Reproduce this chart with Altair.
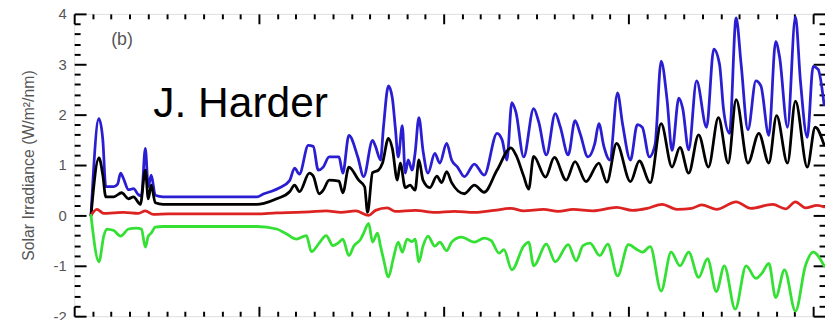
import altair as alt
import pandas as pd

# ---- data (x: arbitrary day units, y: W/m^2/nm) ----
blue_x = [9.1, 13.4, 15.5, 17.1, 21.4, 23.5, 25.1, 26.7, 29.4, 32.1, 34.8, 36.4, 38.5, 40.1, 41.7, 43.9, 48.1,
          69.5, 98.9, 102.7, 106.9, 111.2, 116.6, 119.3, 121.9, 126.7, 129.4, 132.1, 134.8, 138.0, 143.3, 145.4,
          148.7, 153.5, 156.7, 161.5, 163.1, 165.8, 167.4, 170.1, 172.2, 173.8, 175.4, 177.6, 179.2, 180.8, 182.9,
          184.5, 186.6, 188.8, 191.5, 195.2, 197.9, 201.6, 204.3, 207.5, 211.2, 216.6, 221.9, 228.9, 231.6, 234.2,
          236.9, 239.1, 243.3, 248.7, 251.4, 255.6, 260.4, 263.1, 267.4, 271.1, 273.8, 278.1, 281.8, 284.0, 286.7,
          289.9, 294.1, 296.8, 301.1, 304.8, 307.5, 311.3, 314.4, 317.7, 320.9, 323.6, 327.3, 329.4, 332.6, 336.9,
          342.3, 346.2, 349.3, 351.5, 354.7, 358.3, 361.0, 364.7, 369.0, 371.7, 376.0, 379.7, 381.8, 386.1, 390.4,
          393.1, 396.8, 400.0, 402.7, 405.9]
blue_y = [0.0, 1.92, 1.5, 0.57, 0.57, 0.62, 0.84, 0.73, 0.51, 0.53, 0.41, 0.39, 1.33, 0.57, 0.8, 0.4, 0.37,
          0.37, 0.37, 0.43, 0.48, 0.55, 0.69, 0.94, 0.82, 1.39, 1.37, 0.9, 0.96, 1.16, 1.16, 0.84,
          1.59, 1.16, 0.77, 1.49, 1.37, 1.1, 1.75, 2.57, 2.33, 1.75, 1.16, 1.78, 0.84, 1.1, 0.9,
          1.23, 1.94, 1.29, 0.84, 1.23, 1.04, 1.43, 1.1, 0.96, 0.77, 1.02, 0.8, 1.63, 1.5, 1.1,
          2.24, 2.05, 1.16, 2.12, 1.86, 1.2, 2.02, 1.76, 1.2, 1.88, 1.63, 1.16, 1.43, 1.82, 1.37,
          1.1, 2.43, 1.82, 1.1, 1.8, 1.75, 1.16, 1.4, 3.06, 2.3, 1.29, 2.33, 2.12, 1.3, 2.67,
          1.75, 3.3, 3.0, 2.1, 1.63, 3.92, 3.0, 1.7, 2.67, 2.57, 1.59, 3.45, 3.15, 1.75, 3.94,
          2.67, 1.55, 2.96, 2.9, 2.2]

black_x = [9.1, 13.4, 15.5, 17.1, 21.4, 25.7, 29.4, 32.1, 35.8, 38.5, 40.1, 41.7, 43.9, 48.1, 98.9, 102.7,
           109.6, 116.6, 119.3, 121.9, 127.3, 129.4, 132.6, 134.8, 138.0, 143.3, 145.4, 148.7, 154.0, 157.2,
           158.8, 161.5, 164.7, 166.9, 170.1, 172.2, 174.9, 176.5, 179.2, 181.8, 184.5, 186.6, 188.8, 192.5,
           196.3, 198.9, 201.6, 204.3, 211.2, 216.6, 221.9, 228.9, 236.4, 239.1, 243.3, 246.0, 248.7, 255.1,
           259.9, 266.3, 271.1, 277.0, 284.0, 288.3, 293.6, 301.1, 305.9, 311.8, 317.7, 323.6, 327.9, 332.6,
           338.0, 343.3, 348.7, 354.0, 358.3, 364.7, 370.6, 376.0, 380.2, 386.1, 390.4, 396.8, 401.1, 405.9]
black_y = [0.0, 1.14, 0.8, 0.37, 0.37, 0.45, 0.33, 0.37, 0.22, 0.9, 0.33, 0.6, 0.25, 0.22, 0.22, 0.24,
           0.33, 0.47, 0.6, 0.47, 0.84, 0.78, 0.43, 0.5, 0.7, 0.68, 0.45, 0.96, 0.7, 0.57,
           0.06, 0.85, 0.9, 1.04, 1.53, 1.33, 0.7, 1.04, 0.55, 0.6, 0.5, 1.1, 0.7, 0.55,
           0.78, 0.65, 0.87, 0.65, 0.43, 0.6, 0.46, 0.9, 1.34, 1.2, 0.78, 0.52, 1.17, 0.76,
           1.15, 0.7, 1.07, 0.67, 1.04, 0.66, 1.43, 0.67, 1.08, 0.65, 1.82, 0.96, 1.35, 0.84,
           1.6, 0.96, 1.94, 1.04, 2.3, 1.04, 1.63, 1.04, 1.98, 1.04, 2.27, 0.96, 1.75, 1.4]

red_x = [9.1, 12.3, 16.0, 21.4, 26.7, 34.8, 38.5, 42.8, 50.8, 98.9, 109.6, 120.3, 127.3, 136.4, 144.4, 152.4,
         159.4, 163.1, 169.5, 173.8, 184.5, 195.2, 205.9, 216.6, 227.3, 236.4, 243.3, 254.0, 262.1, 270.1,
         280.8, 293.6, 302.2, 310.2, 318.2, 326.2, 334.3, 339.6, 347.6, 358.3, 366.3, 378.1, 385.1, 390.4,
         395.8, 402.2, 405.9]
red_y = [0.0, 0.12, 0.04, 0.05, 0.06, 0.04, 0.09, 0.02, 0.03, 0.03, 0.05, 0.06, 0.07, 0.09, 0.06, 0.09,
         0.0, 0.1, 0.15, 0.08, 0.1, 0.06, 0.08, 0.06, 0.1, 0.14, 0.09, 0.12, 0.08, 0.12,
         0.09, 0.16, 0.1, 0.14, 0.22, 0.12, 0.14, 0.21, 0.12, 0.27, 0.14, 0.22, 0.13, 0.27,
         0.15, 0.2, 0.17]

green_x = [9.1, 13.4, 16.0, 17.6, 21.4, 25.1, 29.4, 33.7, 36.4, 38.5, 40.1, 41.7, 43.9, 48.1, 98.9, 109.6,
           115.0, 120.3, 125.7, 128.4, 132.6, 136.4, 140.1, 142.8, 145.4, 148.7, 151.3, 155.1, 156.7, 159.4,
           161.5, 164.2, 165.8, 167.4, 170.1, 172.7, 175.4, 177.6, 180.2, 182.9, 184.5, 186.6, 188.8, 191.5,
           195.2, 197.9, 201.6, 204.3, 209.6, 216.6, 221.9, 225.7, 230.0, 232.6, 236.9, 243.3, 246.0, 248.7,
           255.6, 260.4, 267.4, 271.7, 275.4, 279.2, 284.5, 288.8, 294.1, 300.0, 304.8, 307.5, 311.8, 317.7,
           323.1, 327.9, 332.6, 338.0, 342.8, 347.6, 351.9, 357.8, 363.7, 369.0, 372.2, 376.0, 379.7, 384.5,
           390.4, 395.8, 400.0, 405.9]
green_y = [0.0, -0.92, -0.41, -0.27, -0.3, -0.41, -0.27, -0.25, -0.27, -0.63, -0.41, -0.35, -0.23, -0.22, -0.22, -0.27,
           -0.37, -0.47, -0.4, -0.72, -0.55, -0.4, -0.6, -0.55, -0.47, -0.8, -0.61, -0.47, -0.35, -0.16,
           -0.53, -0.35, -0.61, -0.86, -1.22, -0.86, -0.53, -0.73, -0.47, -0.52, -0.47, -0.92, -0.61, -0.41,
           -0.61, -0.53, -0.7, -0.53, -0.43, -0.53, -0.45, -0.5, -0.75, -0.68, -1.08, -0.61, -0.53, -1.0,
           -0.57, -0.92, -0.58, -0.9, -0.6, -0.55, -0.8, -0.57, -1.2, -0.58, -0.68, -0.73, -0.62, -1.5,
           -0.73, -1.0, -0.73, -1.23, -0.86, -1.51, -1.0, -1.86, -1.0, -1.25, -1.15, -0.95, -1.63, -1.08,
           -1.9, -1.0, -0.73, -1.0]

x_major = [0, 100, 200, 300, 400]
x_minor = [v for v in range(0, 410, 10) if v % 100 != 0]
y_major = [-2, -1, 0, 1, 2, 3, 4]
y_minor = [round(-2 + 0.2 * i, 1) for i in range(31) if i % 5 != 0]

panel_label = ["(b)"]
panel_label_x = [20.0]
panel_label_y = [3.38]
author_label = ["J. Harder"]
author_x = [42.8]
author_y = [1.96]

W, H = 760, 306
FONT = "Liberation Sans"
xs = alt.Scale(domain=[0, 406.4], nice=False, zero=False)
ys = alt.Scale(domain=[-2, 4], nice=False, zero=False)


def tick_x(orient, values, size):
    return alt.Axis(orient=orient, offset=-H, values=values, tickSize=size, tickWidth=2,
                    tickColor="black", labels=False, domain=False, grid=False, title="")


def tick_y(orient, values, size):
    return alt.Axis(orient=orient, offset=-W, values=values, tickSize=size, tickWidth=2,
                    tickColor="black", labels=False, domain=False, grid=False, title="")


label_axis = alt.Axis(orient="left", values=y_major, ticks=False, domain=False, grid=False,
                      labelFont=FONT, labelFontSize=15, labelColor="#555555", labelPadding=8,
                      labelExpr="'' + datum.value",
                      title="Solar Irradiance (W/m²/nm)", titleFont=FONT, titleFontSize=16,
                      titleFontWeight="normal", titleColor="#555555", titlePadding=17)


def line(xv, yv, color, xaxis, yaxis):
    df = pd.DataFrame({"t": xv, "v": yv})
    return alt.Chart(df).mark_line(color=color, strokeWidth=2.8, clip=True, interpolate="monotone",
                                   strokeJoin="round", strokeCap="round").encode(
        x=alt.X("t:Q", scale=xs, axis=xaxis),
        y=alt.Y("v:Q", scale=ys, axis=yaxis),
    )


blue = line(blue_x, blue_y, "#2a1ed2", tick_x("top", x_major, 10), label_axis)
black = line(black_x, black_y, "#000000", tick_x("top", x_minor, 5), tick_y("right", y_major, 12))
red = line(red_x, red_y, "#dd2222", tick_x("bottom", x_major, 10), tick_y("right", y_minor, 6))
green = line(green_x, green_y, "#33e033", tick_x("bottom", x_minor, 5), tick_y("left", y_major, 12))

b_df = pd.DataFrame({"t": panel_label_x, "v": panel_label_y, "s": panel_label})
b_text = alt.Chart(b_df).mark_text(align="left", baseline="alphabetic", font=FONT, fontSize=18,
                                   color="#555555").encode(
    x=alt.X("t:Q", scale=xs, axis=None),
    y=alt.Y("v:Q", scale=ys, axis=tick_y("left", y_minor, 6)),
    text="s:N",
)

a_df = pd.DataFrame({"t": author_x, "v": author_y, "s": author_label})
a_text = alt.Chart(a_df).mark_text(align="left", baseline="alphabetic", font=FONT, fontSize=43,
                                   color="#000000").encode(
    x=alt.X("t:Q", scale=xs, axis=None),
    y=alt.Y("v:Q", scale=ys, axis=None),
    text="s:N",
)

chart = alt.layer(blue, black, red, green, b_text, a_text).resolve_axis(
    x="independent", y="independent"
).properties(
    width=W, height=H,
    autosize=alt.AutoSizeParams(type="none"),
    padding={"left": 67, "top": 4, "right": 0, "bottom": 10},
).configure_view(stroke="black", strokeWidth=2).configure(background="white")

chart.save("out.html", embed_options={"renderer": "svg", "actions": False})
